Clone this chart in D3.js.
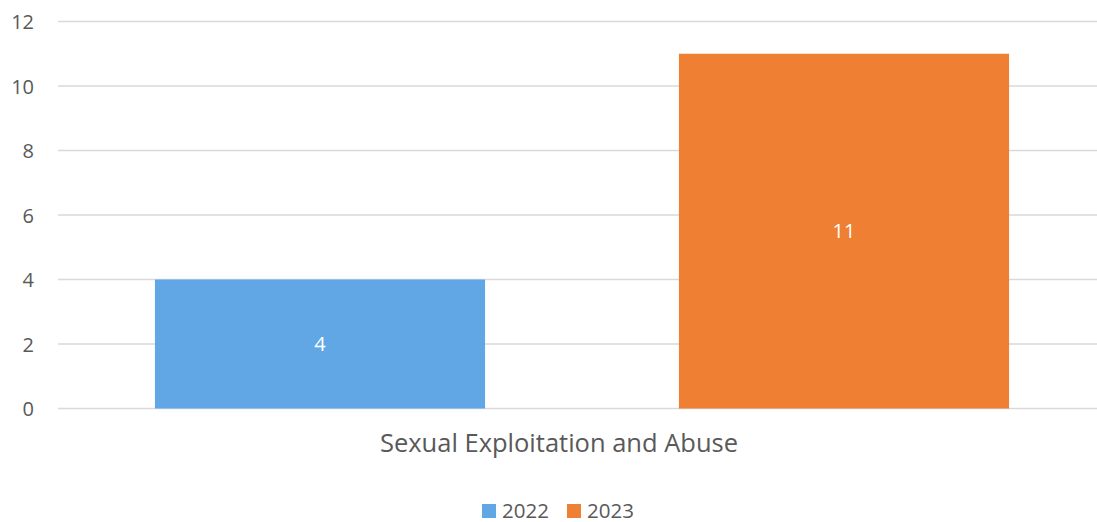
<!DOCTYPE html>
<html>
<head>
<meta charset="utf-8">
<script src="https://cdn.jsdelivr.net/npm/d3@7"></script>
<style>
body { margin: 0; background: #fff; }
text { font-family: "Open Sans", sans-serif; }
</style>
</head>
<body>
<script>
var categories = ["Sexual Exploitation and Abuse"];
var years = ["2022", "2023"];
var values2022 = [4];
var values2023 = [11];
var yTicks = [0, 2, 4, 6, 8, 10, 12];
var colors = ["#61a7e5", "#ee7f33"];

var width = 1097, height = 522;
var plot = { left: 58, right: 1106, top: 21.5, bottom: 408.5 };

var series = [values2022, values2023];

var svg = d3.select("body").append("svg")
    .attr("width", width)
    .attr("height", height);

var x0 = d3.scaleBand()
    .domain(categories)
    .range([plot.left, plot.right]);

var x1 = d3.scaleBand()
    .domain(years)
    .range([0, x0.bandwidth()])
    .paddingInner(0.37)
    .paddingOuter(0.185);

var y = d3.scaleLinear()
    .domain([0, 12])
    .range([plot.bottom, plot.top]);

// gridlines
svg.append("g")
    .selectAll("line")
    .data(yTicks)
    .enter().append("line")
    .attr("x1", plot.left)
    .attr("x2", width)
    .attr("y1", d => y(d))
    .attr("y2", d => y(d))
    .attr("stroke", "#d9d9d9")
    .attr("stroke-width", 1.3);

// y axis labels
var yAxis = svg.append("g")
    .attr("transform", "translate(34,0)")
    .call(d3.axisLeft(y).tickValues(yTicks).tickSize(0).tickPadding(0));
yAxis.select(".domain").remove();
yAxis.selectAll("text")
    .attr("fill", "#595959")
    .style("font-size", "20px")
    .attr("dy", "0.35em");

// bars
var cat = svg.selectAll(".cat")
    .data(categories)
    .enter().append("g")
    .attr("class", "cat")
    .attr("transform", d => "translate(" + x0(d) + ",0)");

years.forEach(function (yr, i) {
    cat.append("rect")
        .attr("x", x1(yr))
        .attr("width", x1.bandwidth())
        .attr("y", (d, j) => y(series[i][j]))
        .attr("height", (d, j) => y(0) - y(series[i][j]))
        .attr("fill", colors[i]);

    cat.append("text")
        .attr("x", x1(yr) + x1.bandwidth() / 2)
        .attr("y", (d, j) => (y(series[i][j]) + y(0)) / 2)
        .attr("dy", "0.35em")
        .attr("text-anchor", "middle")
        .attr("fill", "#fff")
        .style("font-size", "20px")
        .text((d, j) => series[i][j]);
});

// category axis label
var xAxis = svg.append("g")
    .attr("transform", "translate(-23," + (plot.bottom + 25) + ")")
    .call(d3.axisBottom(x0).tickSize(0).tickPadding(0));
xAxis.select(".domain").remove();
xAxis.selectAll("text")
    .attr("fill", "#595959")
    .style("font-size", "25.5px");

// legend
var legend = svg.append("g");
var legendX = [482, 567];
years.forEach(function (yr, i) {
    legend.append("rect")
        .attr("x", legendX[i])
        .attr("y", 504)
        .attr("width", 14)
        .attr("height", 14)
        .attr("fill", colors[i]);
    legend.append("text")
        .attr("x", legendX[i] + 20)
        .attr("y", 517.5)
        .attr("fill", "#595959")
        .style("font-size", "20.5px")
        .text(yr);
});
</script>
</body>
</html>
